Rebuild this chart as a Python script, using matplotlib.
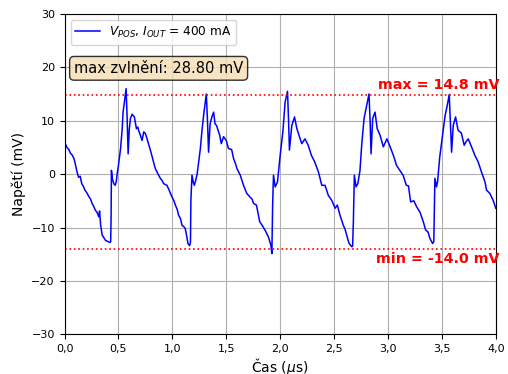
import matplotlib
matplotlib.use("Agg")
import matplotlib.pyplot as plt
from matplotlib.ticker import FuncFormatter, MultipleLocator

# Odečtené body průběhu zvlnění (čas v us, napětí v mV)
cas_us = [
    0.000, 0.009, 0.025, 0.040, 0.055, 0.070, 0.086, 0.100, 0.115, 0.130, 0.145, 0.160,
    0.175, 0.190, 0.210, 0.225, 0.240, 0.256, 0.270, 0.287, 0.300, 0.318, 0.325, 0.335,
    0.349, 0.365, 0.380, 0.400, 0.420, 0.428, 0.432, 0.435, 0.445, 0.457, 0.470, 0.480,
    0.488, 0.500, 0.520, 0.535, 0.543, 0.555, 0.571, 0.580, 0.590, 0.600, 0.611, 0.627,
    0.640, 0.648, 0.667, 0.680, 0.690, 0.705, 0.719, 0.735, 0.750, 0.770, 0.796, 0.815,
    0.830, 0.843, 0.865, 0.889, 0.905, 0.920, 0.950, 0.970, 0.997, 1.015, 1.028, 1.045,
    1.058, 1.075, 1.090, 1.105, 1.120, 1.135, 1.145, 1.160, 1.168, 1.172, 1.182, 1.195,
    1.204, 1.215, 1.230, 1.245, 1.260, 1.275, 1.290, 1.305, 1.315, 1.325, 1.336, 1.350,
    1.367, 1.383, 1.396, 1.410, 1.429, 1.440, 1.454, 1.475, 1.500, 1.520, 1.550, 1.568,
    1.585, 1.600, 1.630, 1.660, 1.690, 1.720, 1.740, 1.753, 1.780, 1.795, 1.810, 1.830,
    1.860, 1.890, 1.914, 1.923, 1.930, 1.938, 1.954, 1.975, 2.000, 2.025, 2.046, 2.068,
    2.078, 2.086, 2.108, 2.133, 2.155, 2.185, 2.200, 2.230, 2.260, 2.290, 2.320, 2.355,
    2.386, 2.416, 2.447, 2.478, 2.510, 2.530, 2.555, 2.586, 2.600, 2.617, 2.630, 2.640,
    2.664, 2.672, 2.679, 2.688, 2.704, 2.720, 2.740, 2.756, 2.778, 2.800, 2.824, 2.834,
    2.843, 2.858, 2.880, 2.900, 2.926, 2.957, 2.990, 3.020, 3.050, 3.080, 3.110, 3.140,
    3.170, 3.190, 3.210, 3.240, 3.265, 3.296, 3.327, 3.350, 3.370, 3.390, 3.414, 3.425,
    3.435, 3.450, 3.460, 3.480, 3.506, 3.530, 3.550, 3.568, 3.580, 3.590, 3.605, 3.627,
    3.650, 3.680, 3.707, 3.725, 3.744, 3.775, 3.806, 3.836, 3.867, 3.900, 3.914, 3.944,
    3.975, 4.000,
]
napeti_mv = [
    6.0, 5.6, 4.9, 4.6, 3.9, 3.6, 3.0, 1.9, 0.5, -0.6, -0.4, -1.8,
    -2.3, -3.0, -3.6, -4.2, -4.6, -5.5, -6.0, -6.8, -7.1, -8.0, -6.9, -9.5,
    -11.4, -11.9, -12.4, -12.6, -12.8, -12.7, -8.0, 0.7, -1.0, -1.8, -2.1, -1.4,
    0.0, 1.6, 4.8, 8.5, 11.6, 13.4, 16.0, 11.0, 3.8, 8.2, 10.4, 11.2,
    10.9, 10.7, 8.5, 8.8, 8.0, 7.2, 6.3, 7.9, 7.6, 6.3, 4.5, 3.1,
    1.9, 1.0, 0.1, -0.8, -1.2, -1.8, -2.1, -3.0, -4.3, -5.0, -5.8, -6.6,
    -7.7, -8.3, -9.6, -9.8, -10.2, -11.8, -13.0, -13.4, -12.8, -5.0, -0.2, -1.6,
    -2.1, -1.3, 0.0, 2.4, 4.8, 8.2, 11.0, 13.4, 15.0, 10.5, 4.1, 9.4,
    10.7, 11.6, 9.4, 9.1, 7.9, 7.2, 5.7, 7.0, 6.3, 4.8, 4.6, 2.9,
    2.0, 1.0, -0.2, -2.1, -3.6, -4.3, -4.7, -5.5, -5.8, -7.4, -8.9, -9.5,
    -10.5, -11.7, -13.3, -14.9, -6.0, -0.2, -2.4, -1.5, 3.5, 7.9, 13.5, 15.5,
    10.0, 4.5, 9.1, 10.7, 8.5, 6.6, 5.7, 6.6, 5.4, 3.5, 2.3, 0.4,
    -2.1, -2.1, -4.0, -4.9, -6.4, -5.8, -7.7, -9.6, -10.2, -11.4, -12.4, -13.0,
    -13.6, -13.5, -8.9, -0.2, -2.4, -1.8, 0.6, 5.4, 10.4, 12.6, 15.0, 10.0,
    3.8, 10.4, 11.6, 8.5, 7.3, 5.1, 6.6, 5.1, 3.5, 1.6, 0.7, -0.2,
    -2.1, -2.2, -5.2, -5.0, -6.1, -7.1, -8.9, -10.5, -10.8, -12.1, -13.0, -12.6,
    -0.8, -2.4, -1.4, 3.2, 7.3, 11.0, 12.9, 14.9, 9.0, 4.1, 9.1, 10.7,
    8.2, 7.7, 5.4, 6.1, 6.6, 5.1, 3.5, 2.3, 0.4, -1.5, -3.0, -3.6,
    -4.9, -6.4,
]

max_mv = 14.8
min_mv = -14.0
zvlneni_mv = 28.80

fig = plt.figure(figsize=(5.08, 3.74), dpi=100)
ax = fig.add_axes([0.127, 0.106, 0.849, 0.857])

ax.plot(cas_us, napeti_mv, color="blue", linewidth=1.1,
        label=r"$V_{POS}$, $I_{OUT}$ = 400 mA")
ax.axhline(max_mv, color="red", linestyle=":", linewidth=1.2)
ax.axhline(min_mv, color="red", linestyle=":", linewidth=1.2)

ax.text(1.009, max_mv + 0.6, f"max = {max_mv:.1f} mV", color="red", fontweight="bold",
        fontsize=10.3, ha="right", va="bottom", transform=ax.get_yaxis_transform())
ax.text(1.009, min_mv - 0.6, f"min = {min_mv:.1f} mV", color="red", fontweight="bold",
        fontsize=10.3, ha="right", va="top", transform=ax.get_yaxis_transform())

ax.text(0.022, 0.83, f"max zvlnění: {zvlneni_mv:.2f} mV", transform=ax.transAxes,
        fontsize=10.5, ha="left", va="center",
        bbox=dict(boxstyle="round,pad=0.3", facecolor="wheat", edgecolor="black", alpha=0.8))

ax.set_xlim(0, 4.0)
ax.set_ylim(-30, 30)
ax.xaxis.set_major_locator(MultipleLocator(0.5))
ax.yaxis.set_major_locator(MultipleLocator(10))
ax.xaxis.set_major_formatter(FuncFormatter(lambda v, _: f"{v:.1f}".replace(".", ",")))
ax.tick_params(labelsize=8)
ax.set_xlabel(r"Čas ($\mu$s)", fontsize=10, labelpad=1.5)
ax.set_ylabel("Napětí (mV)", fontsize=10)
ax.grid(True, color="#b0b0b0", linewidth=0.8)
ax.legend(loc="upper left", fontsize=8.7)

fig.savefig("out.png", dpi=100)
